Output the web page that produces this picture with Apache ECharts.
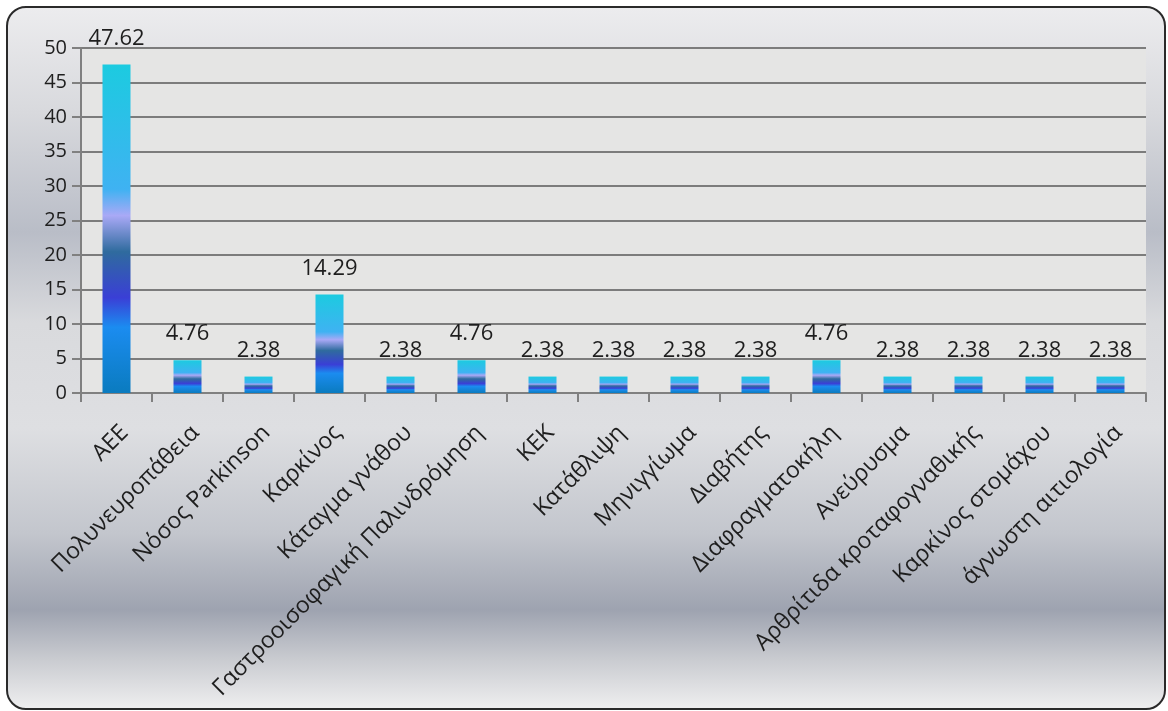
<!DOCTYPE html>
<html>
<head>
<meta charset="utf-8">
<script src="https://cdn.jsdelivr.net/npm/echarts@6/dist/echarts.min.js"></script>
<style>
  html, body { margin: 0; padding: 0; background: #fff; }
  #frame {
    position: absolute; left: 6px; top: 6px; width: 1156px; height: 700px;
    border: 2px solid #2a2a2a; border-radius: 20px;
    background: linear-gradient(to bottom, #ececee 0%, #d8d9dd 15%, #b9bdc7 32%, #d9dadd 45%, #dedfe2 60%, #c3c6cd 75%, #9ea3b0 86%, #c9cbd0 93%, #eeeeef 100%);
  }
  #chart { position: absolute; left: 0; top: 0; width: 1168px; height: 711px; }
</style>
</head>
<body>
<div id="frame"></div>
<div id="chart"></div>
<script>
// 类别
const categories = ['ΑΕΕ', 'Πολυνευροπάθεια', 'Νόσος Parkinson', 'Καρκίνος', 'Κάταγμα γνάθου',
  'Γαστροοισοφαγική Παλινδρόμηση', 'ΚΕΚ', 'Κατάθλιψη', 'Μηνιγγίωμα', 'Διαβήτης',
  'Διαφραγματοκήλη', 'Ανεύρυσμα', 'Αρθρίτιδα κροταφογναθικής', 'Καρκίνος στομάχου', 'άγνωστη αιτιολογία'];
// 数值
const values = [47.62, 4.76, 2.38, 14.29, 2.38, 4.76, 2.38, 2.38, 2.38, 2.38, 4.76, 2.38, 2.38, 2.38, 2.38];
// 刻度
const yTicks = [0, 5, 10, 15, 20, 25, 30, 35, 40, 45, 50];

const chart = echarts.init(document.getElementById('chart'));

const barColor = new echarts.graphic.LinearGradient(0, 0, 0, 1, [
  { offset: 0, color: '#1ccbe0' },
  { offset: 0.38, color: '#3fb2f2' },
  { offset: 0.46, color: '#a9a9f6' },
  { offset: 0.57, color: '#2f6b9e' },
  { offset: 0.71, color: '#3a3fd6' },
  { offset: 0.8, color: '#1b8cf0' },
  { offset: 1, color: '#0a7bbf' }
]);

const option = {
  animation: false,
  grid: {
    left: 81, right: 22, top: 48, bottom: 318,
    show: true, backgroundColor: '#e5e5e4', borderWidth: 0
  },
  xAxis: {
    type: 'category',
    data: categories,
    axisLine: { lineStyle: { color: '#808080', width: 2 } },
    axisTick: { show: true, length: 9, lineStyle: { color: '#808080', width: 2 } },
    axisLabel: {
      interval: 0, rotate: 45, fontSize: 23, color: '#1e1e1e',
      fontFamily: 'Open Sans', margin: 28, verticalAlign: 'top'
    }
  },
  yAxis: {
    type: 'value',
    min: yTicks[0], max: yTicks[yTicks.length - 1], interval: 5,
    axisLine: { show: true, lineStyle: { color: '#808080', width: 2 } },
    axisTick: { show: true, length: 9, lineStyle: { color: '#808080', width: 2 } },
    axisLabel: { fontSize: 20, color: '#1e1e1e', fontFamily: 'Open Sans', margin: 14 },
    splitLine: { lineStyle: { color: '#7c7c7c', width: 2 } }
  },
  series: [{
    type: 'bar',
    data: values,
    barWidth: 28,
    itemStyle: { color: barColor },
    label: {
      show: true, position: 'top', distance: 15,
      fontSize: 22, color: '#1e1e1e', fontFamily: 'Open Sans',
      formatter: p => p.value.toFixed(2)
    }
  }]
};

chart.setOption(option);
</script>
</body>
</html>
